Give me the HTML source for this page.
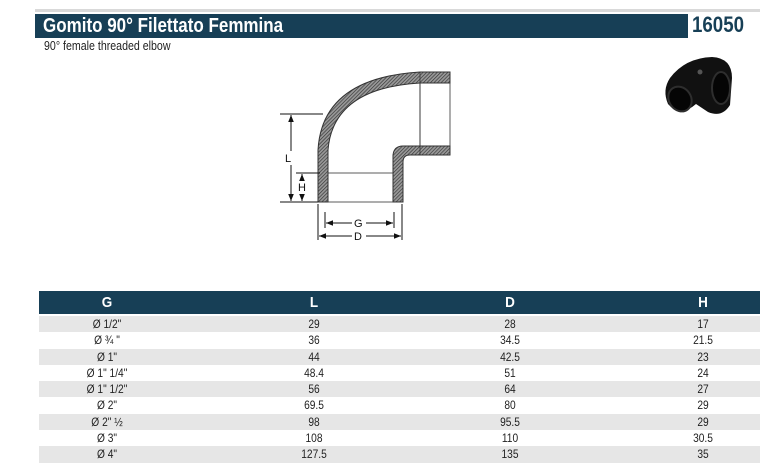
<!DOCTYPE html>
<html><head><meta charset="utf-8"><style>
html,body{margin:0;padding:0;background:#fff;width:777px;height:476px;overflow:hidden;font-family:"Liberation Sans",Arial,sans-serif;position:relative}
.abs{position:absolute}
.c{display:inline-block;transform:scaleX(0.85);transform-origin:left center;white-space:nowrap}
.r{height:16.3px;position:relative;font-size:12px;color:#222;line-height:16.3px}
.r.g{background:#e6e6e6}
.r span{position:absolute;transform:translateX(-50%) scaleX(0.85);white-space:nowrap}
.hd{height:23px;background:#173f56;position:relative;color:#fff;font-weight:bold;font-size:15px;line-height:23px}
.hd span{position:absolute;transform:translateX(-50%) scaleX(0.9)}
</style></head><body>
<div class="abs" style="left:35px;top:9px;width:725px;height:3px;background:#d9d9d9"></div>
<div class="abs" style="left:35px;top:14px;width:653px;height:24px;background:#173f56"></div>
<div class="abs" style="left:43px;top:15px;color:#fff;font-weight:bold;font-size:20px;line-height:22px"><span class="c">Gomito 90° Filettato Femmina</span></div>
<div class="abs" style="left:692px;top:12px;color:#173f56;font-weight:bold;font-size:22px;line-height:26px"><span class="c">16050</span></div>
<div class="abs" style="left:44px;top:39px;color:#222;font-size:12.5px;line-height:14px"><span class="c">90° female threaded elbow</span></div>

<svg class="abs" style="left:0;top:0" width="777" height="290">
<defs><pattern id="h" width="2.5" height="2.5" patternUnits="userSpaceOnUse" patternTransform="rotate(45)"><rect width="2.5" height="2.5" fill="#999"/><line x1="0" y1="0" x2="0" y2="2.5" stroke="#333" stroke-width="1.3"/></pattern>
<marker id="a" viewBox="0 0 10 10" refX="10" refY="5" markerWidth="7" markerHeight="7" orient="auto-start-reverse"><path d="M0,1 L10,5 L0,9z" fill="#111"/></marker></defs>
<path d="M318,202 L318,150 Q322,78 420,72 L450,72 L450,83 L420,83 Q333,88 328,150 L328,202 Z" fill="url(#h)" stroke="#333" stroke-width="1"/>
<path d="M393,202 L393,155 Q394,146 403,146 L450,146 L450,155 L410,155 Q403,155 403,162 L403,202 Z" fill="url(#h)" stroke="#333" stroke-width="1"/>
<rect x="328" y="173" width="65" height="29" fill="none" stroke="#333" stroke-width="0.8"/>
<rect x="420" y="83" width="30" height="63" fill="none" stroke="#333" stroke-width="0.8"/>
<line x1="420" y1="72" x2="420" y2="155" stroke="#333" stroke-width="0.8"/>
<g stroke="#111" stroke-width="1" fill="none">
<line x1="280" y1="114" x2="323" y2="114"/>
<line x1="280" y1="202" x2="318" y2="202"/>
<line x1="296" y1="173" x2="320" y2="173"/>
<line x1="291" y1="115" x2="291" y2="201" marker-start="url(#a)" marker-end="url(#a)"/>
<line x1="302" y1="174" x2="302" y2="201" marker-start="url(#a)" marker-end="url(#a)"/>
<line x1="318" y1="204" x2="318" y2="240"/>
<line x1="402" y1="204" x2="402" y2="240"/>
<line x1="325" y1="212" x2="325" y2="228"/>
<line x1="394" y1="212" x2="394" y2="228"/>
<line x1="326" y1="223" x2="393" y2="223" marker-start="url(#a)" marker-end="url(#a)"/>
<line x1="319" y1="236" x2="401" y2="236" marker-start="url(#a)" marker-end="url(#a)"/>
</g>
<g font-family="Liberation Sans,Arial,sans-serif" font-size="11" fill="#111">
<rect x="284" y="151" width="14" height="14" fill="#fff"/><text x="285" y="162">L</text>
<rect x="297" y="181" width="10" height="13" fill="#fff"/><text x="298" y="191">H</text>
<rect x="352" y="217" width="14" height="12" fill="#fff"/><text x="354" y="227">G</text>
<rect x="352" y="230" width="14" height="12" fill="#fff"/><text x="354" y="240">D</text>
</g>
<g>
<path d="M670,78 Q685,58 712,57 Q732,58 732,78 L730,105 Q722,118 708,112 L696,104 Q680,118 668,104 Q662,90 670,78Z" fill="#111"/>
<ellipse cx="680" cy="99" rx="11" ry="13" fill="#050505" stroke="#2e2e2e" stroke-width="2" transform="rotate(-35 680 99)"/>
<ellipse cx="721" cy="88" rx="9" ry="16" fill="#050505" stroke="#2e2e2e" stroke-width="2"/>
<circle cx="700" cy="72" r="2.5" fill="#555"/>
</g>
</svg>

<div class="abs" style="left:39px;top:291px;width:721px">
<div class="hd"><span style="left:68px">G</span><span style="left:275px">L</span><span style="left:471px">D</span><span style="left:664px">H</span></div>
<div style="height:2px"></div>
<div class="r g"><span style="left:68px">Ø 1/2"</span><span style="left:275px">29</span><span style="left:471px">28</span><span style="left:664px">17</span></div>
<div class="r"><span style="left:68px">Ø ¾ "</span><span style="left:275px">36</span><span style="left:471px">34.5</span><span style="left:664px">21.5</span></div>
<div class="r g"><span style="left:68px">Ø 1"</span><span style="left:275px">44</span><span style="left:471px">42.5</span><span style="left:664px">23</span></div>
<div class="r"><span style="left:68px">Ø 1" 1/4"</span><span style="left:275px">48.4</span><span style="left:471px">51</span><span style="left:664px">24</span></div>
<div class="r g"><span style="left:68px">Ø 1" 1/2"</span><span style="left:275px">56</span><span style="left:471px">64</span><span style="left:664px">27</span></div>
<div class="r"><span style="left:68px">Ø 2"</span><span style="left:275px">69.5</span><span style="left:471px">80</span><span style="left:664px">29</span></div>
<div class="r g"><span style="left:68px">Ø 2" ½</span><span style="left:275px">98</span><span style="left:471px">95.5</span><span style="left:664px">29</span></div>
<div class="r"><span style="left:68px">Ø 3"</span><span style="left:275px">108</span><span style="left:471px">110</span><span style="left:664px">30.5</span></div>
<div class="r g"><span style="left:68px">Ø 4"</span><span style="left:275px">127.5</span><span style="left:471px">135</span><span style="left:664px">35</span></div>
</div>
</body></html>
